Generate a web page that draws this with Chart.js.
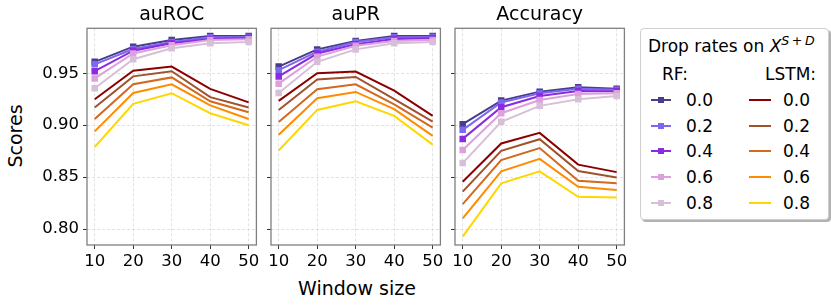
<!DOCTYPE html>
<html><head><meta charset="utf-8">
<script src="https://cdn.jsdelivr.net/npm/chart.js@4.4.1/dist/chart.umd.min.js"></script>
<style>
html,body{margin:0;padding:0;background:#fff;}
#wrap{position:relative;width:831px;height:306px;overflow:hidden;font-family:'DejaVu Sans',sans-serif;color:#000;}
canvas{position:absolute;top:0;}
.lbl{position:absolute;white-space:nowrap;font-size:19px;line-height:1;transform:translate(-50%,-50%);}
#legend{position:absolute;left:640px;top:28px;width:187px;height:190px;border:1px solid #cfcfcf;border-radius:4px;background:#fff;box-shadow:2px 2px 0 rgba(0,0,0,0.3);font-size:17px;}
#legend .t{position:absolute;white-space:nowrap;line-height:1;transform:translateY(-50%);}
#legend .ln{position:absolute;height:2px;transform:translateY(-50%);}
#legend .mk{position:absolute;width:6px;height:6px;transform:translate(-50%,-50%);}
sup{font-size:0.74em;vertical-align:0.55em;line-height:0;}
</style>
</head><body>
<div id="wrap">
  <div class="lbl" style="left:15px;top:136px;transform:translate(-50%,-50%) rotate(-90deg);">Scores</div>
  <div class="lbl" style="left:357px;top:288px;">Window size</div>
  <div id="legend"></div>
</div>
<script>
const windowSizes = [10, 20, 30, 40, 50];
const dropRates = ['0.0', '0.2', '0.4', '0.6', '0.8'];
const yTicks = [0.80, 0.85, 0.90, 0.95];
const panelTitles = ['auROC', 'auPR', 'Accuracy'];

// RF rows: drop rate 0.0 .. 0.8 ; columns: window size 10..50
const rfAuROC = [
  [0.961, 0.9756, 0.982, 0.9858, 0.986],
  [0.9586, 0.9734, 0.980, 0.9846, 0.985],
  [0.952, 0.9717, 0.979, 0.983, 0.984],
  [0.945, 0.969, 0.977, 0.982, 0.9827],
  [0.9356, 0.9635, 0.974, 0.979, 0.980]
];
const lstmAuROC = [
  [0.925, 0.9525, 0.9564, 0.935, 0.922],
  [0.917, 0.947, 0.952, 0.927, 0.917],
  [0.906, 0.9394, 0.946, 0.923, 0.9125],
  [0.894, 0.931, 0.9394, 0.919, 0.906],
  [0.879, 0.9205, 0.9308, 0.9115, 0.900]
];
const rfAuPR = [
  [0.9564, 0.973, 0.981, 0.9858, 0.986],
  [0.953, 0.9708, 0.980, 0.9846, 0.985],
  [0.947, 0.969, 0.978, 0.983, 0.9837],
  [0.940, 0.966, 0.9765, 0.981, 0.982],
  [0.931, 0.961, 0.973, 0.979, 0.980]
];
const lstmAuPR = [
  [0.9234, 0.950, 0.9516, 0.9333, 0.909],
  [0.9147, 0.944, 0.9465, 0.925, 0.9035],
  [0.903, 0.9346, 0.9394, 0.920, 0.8977],
  [0.8907, 0.926, 0.932, 0.9154, 0.8897],
  [0.8756, 0.9147, 0.923, 0.909, 0.8813]
];
const rfAccuracy = [
  [0.901, 0.9237, 0.9323, 0.9365, 0.935],
  [0.8955, 0.9218, 0.9308, 0.935, 0.934],
  [0.8868, 0.9173, 0.928, 0.933, 0.9327],
  [0.876, 0.9115, 0.9243, 0.930, 0.9308],
  [0.8635, 0.9032, 0.9186, 0.925, 0.928]
];
const lstmAccuracy = [
  [0.8455, 0.8824, 0.8926, 0.862, 0.8548],
  [0.836, 0.8753, 0.8865, 0.8558, 0.8497],
  [0.824, 0.8663, 0.878, 0.8465, 0.844],
  [0.8103, 0.8555, 0.8676, 0.8407, 0.8375],
  [0.7926, 0.844, 0.8555, 0.831, 0.8304]
];

const rfColors = ['#483D8B', '#7B68EE', '#8A2BE2', '#DDA0DD', '#D8BFD8'];
const lstmColors = ['#8B0000', '#A0522D', '#D2691E', '#FF8C00', '#FFD700'];
const FONT = "'DejaVu Sans', sans-serif";

const framePlugin = {
  id: 'frame',
  afterDatasetsDraw(chart) {
    const {ctx, chartArea: a} = chart;
    ctx.save();
    ctx.strokeStyle = '#808080';
    ctx.lineWidth = 1.3;
    ctx.strokeRect(a.left, a.top, a.right - a.left, a.bottom - a.top);
    ctx.restore();
  }
};
const panelTitlePlugin = {
  id: 'panelTitle',
  afterDraw(chart, args, opts) {
    const {ctx, chartArea: a} = chart;
    ctx.save();
    ctx.fillStyle = '#000';
    ctx.font = '19px ' + FONT;
    ctx.textAlign = 'center';
    ctx.textBaseline = 'middle';
    ctx.fillText(opts.text, (a.left + a.right) / 2, 15);
    ctx.restore();
  }
};

function makePanel(left, width, yWidth, title, rf, lstm, showYLabels) {
  const canvas = document.createElement('canvas');
  canvas.width = width; canvas.height = 306;
  canvas.style.left = left + 'px';
  canvas.style.width = width + 'px'; canvas.style.height = '306px';
  document.getElementById('wrap').insertBefore(canvas, document.getElementById('legend'));
  const datasets = [];
  let n = 0;
  rf.forEach((row, i) => {
    datasets.push({
      label: 'RF ' + dropRates[i],
      data: row.map((v, j) => ({x: windowSizes[j], y: v})),
      borderColor: rfColors[i], backgroundColor: rfColors[i],
      borderWidth: 2, pointStyle: 'rect', pointRadius: 4.6, pointBorderWidth: 0,
      pointBackgroundColor: rfColors[i], tension: 0, order: 100 - (n++)
    });
  });
  lstm.forEach((row, i) => {
    datasets.push({
      label: 'LSTM ' + dropRates[i],
      data: row.map((v, j) => ({x: windowSizes[j], y: v})),
      borderColor: lstmColors[i], backgroundColor: lstmColors[i],
      borderWidth: 2, pointRadius: 0, tension: 0, order: 100 - (n++)
    });
  });
  new Chart(canvas, {
    type: 'line',
    data: {datasets},
    options: {
      responsive: false, animation: false, events: [],
      layout: {padding: {left: 0, right: 3, top: 28.3, bottom: 0}},
      plugins: {
        legend: {display: false}, tooltip: {enabled: false},
        title: {display: false},
        panelTitle: {text: title}
      },
      scales: {
        x: {
          type: 'linear', min: 8, max: 52,
          afterBuildTicks: s => { s.ticks = windowSizes.map(v => ({value: v})); },
          afterFit: s => { s.height = 61; s.paddingLeft = 0; s.paddingRight = 0; },
          ticks: {color: '#000', font: {family: FONT, size: 16.5}, padding: 3, maxRotation: 0, autoSkip: false,
            callback: v => String(v)},
          grid: {color: '#dadada', lineWidth: 0.8, tickColor: '#333', tickLength: 4, tickWidth: 1, tickBorderDash: []},
          border: {display: false, dash: [3, 2]}
        },
        y: {
          type: 'linear', min: 0.7846, max: 0.9933,
          afterBuildTicks: s => { s.ticks = yTicks.map(v => ({value: v})); },
          afterFit: s => { s.width = yWidth; s.paddingTop = 0; s.paddingBottom = 0; },
          ticks: {display: showYLabels, color: '#000', font: {family: FONT, size: 16.5}, padding: 4,
            callback: v => Number(v).toFixed(2)},
          grid: {color: '#dadada', lineWidth: 0.8, tickColor: '#333', tickLength: 4, tickWidth: 1, tickBorderDash: []},
          border: {display: false, dash: [3, 2]}
        }
      }
    },
    plugins: [framePlugin, panelTitlePlugin]
  });
}

makePanel(0, 261, 87, panelTitles[0], rfAuROC, lstmAuROC, true);
makePanel(261, 184, 10, panelTitles[1], rfAuPR, lstmAuPR, false);
makePanel(445, 184, 10, panelTitles[2], rfAccuracy, lstmAccuracy, false);

// Legend
(function buildLegend() {
  const lg = document.getElementById('legend');
  function add(cls, style, html) {
    const d = document.createElement('div');
    d.className = cls; d.style.cssText = style;
    if (html !== undefined) d.innerHTML = html;
    lg.appendChild(d);
  }
  add('t', 'left:7px;top:17px;', 'Drop rates on <i>X</i><sup><i>S</i>&#8201;+&#8201;<i>D</i></sup>');
  add('t', 'left:21px;top:45px;', 'RF:');
  add('t', 'left:124px;top:45px;', 'LSTM:');
  const rowY = [71, 96.7, 122, 147.7, 173.5];
  dropRates.forEach((r, i) => {
    const y = rowY[i];
    add('ln', `left:10px;top:${y}px;width:20px;background:${rfColors[i]};`);
    add('mk', `left:20px;top:${y}px;background:${rfColors[i]};`);
    add('t', `left:45px;top:${y}px;`, r);
    add('ln', `left:108px;top:${y}px;width:22px;background:${lstmColors[i]};`);
    add('t', `left:142px;top:${y}px;`, r);
  });
})();
</script>
</body></html>
